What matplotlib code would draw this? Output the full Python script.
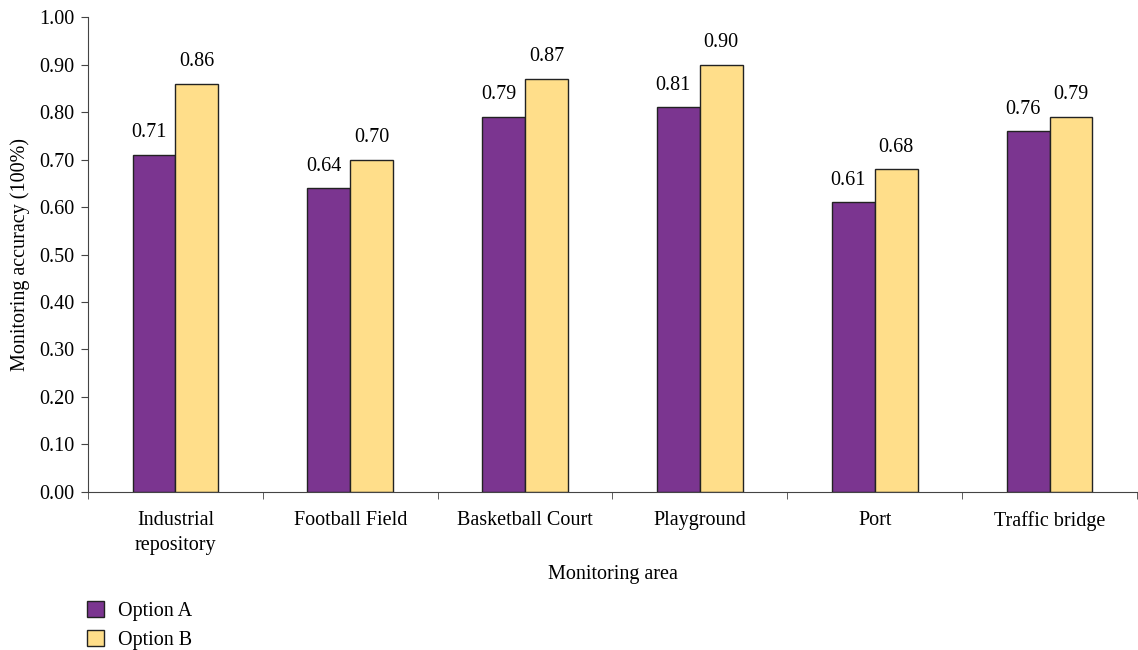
import matplotlib.pyplot as plt
import numpy as np
from matplotlib.ticker import FixedLocator, NullFormatter

plt.rcParams['font.family'] = ['Liberation Serif', 'DejaVu Serif']

areas = ["Industrial\nrepository", "Football Field", "Basketball Court",
         "Playground", "Port", "Traffic bridge"]
option_a = [0.71, 0.64, 0.79, 0.81, 0.61, 0.76]
option_b = [0.86, 0.70, 0.87, 0.90, 0.68, 0.79]

purple = "#7B3590"
yellow = "#FFDE8A"
fs = 14.5

fig = plt.figure(figsize=(11.38, 6.5), dpi=100)
ax = fig.add_axes([0.0773, 0.2431, 0.9218, 0.7307])

x = np.arange(len(areas))
w = 0.245
bars_a = ax.bar(x - w / 2, option_a, w, color=purple, edgecolor="#222222",
                linewidth=1.0, label="Option A")
bars_b = ax.bar(x + w / 2, option_b, w, color=yellow, edgecolor="#222222",
                linewidth=1.0, label="Option B")

for b, v in zip(bars_a, option_a):
    ax.annotate(f"{v:.2f}", (b.get_x() + b.get_width() / 2 - 0.03, v),
                xytext=(0, 9), textcoords="offset points", ha="center",
                va="bottom", fontsize=fs)
for b, v in zip(bars_b, option_b):
    ax.annotate(f"{v:.2f}", (b.get_x() + b.get_width() / 2, v),
                xytext=(0, 9), textcoords="offset points", ha="center",
                va="bottom", fontsize=fs)

ax.set_xlim(-0.5, len(areas) - 0.5)
ax.set_ylim(0, 1.0)
ax.set_yticks(np.arange(0, 1.01, 0.1))
ax.set_yticklabels([f"{t:.2f}" for t in np.arange(0, 1.01, 0.1)], fontsize=fs)
ax.set_xticks(x)
ax.set_xticklabels(areas, fontsize=fs, linespacing=1.4)
ax.tick_params(axis="x", which="major", length=0, pad=14)
ax.xaxis.set_minor_locator(FixedLocator(np.arange(-0.5, len(areas), 1.0)))
ax.xaxis.set_minor_formatter(NullFormatter())
ax.tick_params(axis="x", which="minor", length=5, color="#444444")
ax.tick_params(axis="y", length=5, color="#444444", pad=5)

for s in ["top", "right"]:
    ax.spines[s].set_visible(False)
for s in ["left", "bottom"]:
    ax.spines[s].set_color("#444444")

ax.set_xlabel("Monitoring area", fontsize=fs, labelpad=7)
ax.set_ylabel("Monitoring accuracy (100%)", fontsize=fs, labelpad=6)

fig.legend(loc="upper left", bbox_to_anchor=(0.069, 0.088), frameon=False,
           fontsize=fs, handlelength=0.85, handleheight=0.85,
           handletextpad=0.7, labelspacing=0.45, borderaxespad=0)

fig.savefig("out.png", dpi=100)
